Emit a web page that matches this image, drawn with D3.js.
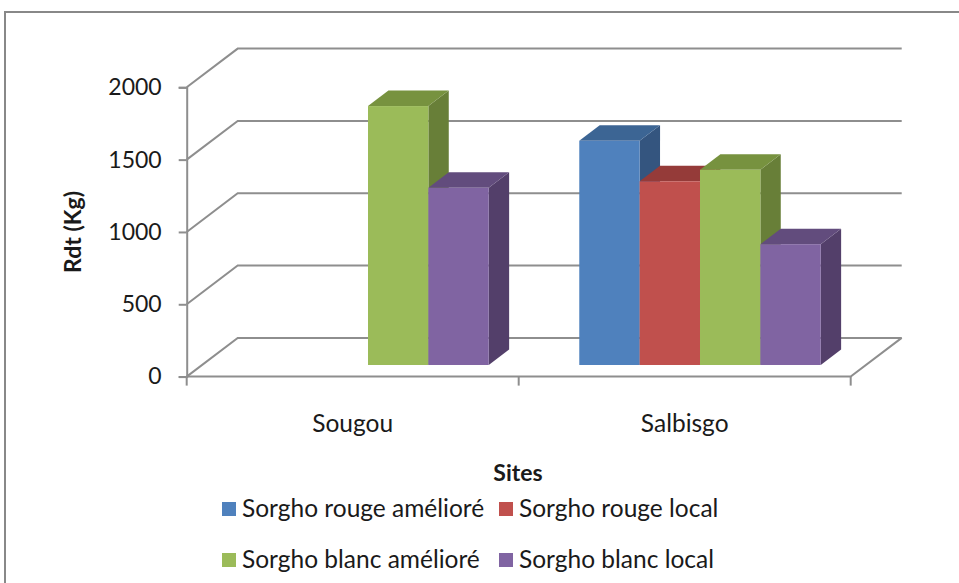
<!DOCTYPE html>
<html>
<head>
<meta charset="utf-8">
<script src="https://cdn.jsdelivr.net/npm/d3@7"></script>
<style>
  html, body { margin: 0; padding: 0; background: #fff; }
  svg { display: block; }
  text { font-family: Lato, "Open Sans", sans-serif; fill: #1a1a1a; }
</style>
</head>
<body>
<svg id="chart" width="959" height="583"></svg>
<script>
// Rendement (kg) par site et par variété de sorgho
const categories = ["Sougou", "Salbisgo"];
const seriesNames = [
  "Sorgho rouge amélioré",
  "Sorgho rouge local",
  "Sorgho blanc amélioré",
  "Sorgho blanc local"
];
const sorghoRougeAmeliore = [null, 1550];
const sorghoRougeLocal    = [null, 1270];
const sorghoBlancAmeliore = [1790, 1350];
const sorghoBlancLocal    = [1225, 835];
const yTicks = [0, 500, 1000, 1500, 2000];

const seriesValues = [sorghoRougeAmeliore, sorghoRougeLocal, sorghoBlancAmeliore, sorghoBlancLocal];
// front, top, side shades for each series
const palette = [
  { front: "#4f81bd", top: "#3c6594", side: "#34557f" },
  { front: "#c0504d", top: "#953b39", side: "#7f3331" },
  { front: "#9bbb59", top: "#77923f", side: "#687f38" },
  { front: "#8064a2", top: "#624c7d", side: "#533f6a" }
];

const svg = d3.select("#chart");

// outer chart border
svg.append("rect")
  .attr("x", 5).attr("y", 12)
  .attr("width", 1000).attr("height", 700)
  .attr("fill", "none").attr("stroke", "#888").attr("stroke-width", 2);

// 3D projection: depth offsets of the back wall
const DX = 51, DY = 38.7;
const x0 = d3.scaleBand().domain(categories).range([186.7, 850.7]).padding(0);
const x1 = d3.scaleBand().domain(seriesNames).range([0, x0.bandwidth()])
  .paddingInner(0).paddingOuter(0.75);
const y = d3.scaleLinear().domain([0, 2000]).range([376.6, 87.3]);

const P = (px, v, d) => [px + d * DX, y(v) - d * DY];
const gridColor = "#8e8e8e";

const walls = svg.append("g").attr("fill", "none").attr("stroke", gridColor).attr("stroke-width", 2);
const [xl, xr] = x0.range();

// gridlines on side wall and back wall
yTicks.forEach(t => {
  const a = P(xl, t, 0), b = P(xl, t, 1), c = P(xr, t, 1);
  walls.append("path").attr("d", d3.line()([a, b, c]));
});
// floor front edge and right edge
walls.append("path").attr("d", d3.line()([P(xl, 0, 0), P(xr, 0, 0), P(xr, 0, 1)]));

// vertical value axis
const axisG = svg.append("g").attr("transform", `translate(${xl},0)`);
axisG.call(d3.axisLeft(y).tickValues(yTicks).tickSize(8).tickPadding(17).tickFormat(d3.format("d")));
axisG.select(".domain").attr("stroke", gridColor).attr("stroke-width", 2);
axisG.selectAll(".tick line").attr("stroke", gridColor).attr("stroke-width", 2);
axisG.selectAll(".tick text").attr("font-size", 23).attr("font-family", "Lato").attr("fill", "#1a1a1a");

// category axis
const catG = svg.append("g").attr("transform", `translate(0,${y(0)})`);
catG.call(d3.axisBottom(x0).tickSize(0).tickPadding(38));
catG.select(".domain").remove();
catG.selectAll(".tick text").attr("font-size", 24.5).attr("font-family", "Lato").attr("fill", "#1a1a1a");
// category tick marks at band boundaries
const bounds = [xl, xl + x0.step(), xr];
svg.append("g").selectAll("line").data(bounds).join("line")
  .attr("x1", d => d).attr("x2", d => d)
  .attr("y1", y(0)).attr("y2", y(0) + 9)
  .attr("stroke", gridColor).attr("stroke-width", 2);

// 3D bars
const dF = 0.3, dB = 0.7;
const bars = svg.append("g");
categories.forEach((cat, ci) => {
  seriesNames.forEach((s, si) => {
    const v = seriesValues[si][ci];
    if (v == null) return;
    const xa = x0(cat) + x1(s), xb = xa + x1.bandwidth();
    const col = palette[si];
    const g = bars.append("g");
    // right side face
    g.append("path")
      .attr("d", d3.line()([P(xb, 0, dF), P(xb, 0, dB), P(xb, v, dB), P(xb, v, dF)]) + "Z")
      .attr("fill", col.side);
    // top face
    g.append("path")
      .attr("d", d3.line()([P(xa, v, dF), P(xa, v, dB), P(xb, v, dB), P(xb, v, dF)]) + "Z")
      .attr("fill", col.top);
    // front face
    const [fx, fy] = P(xa, v, dF);
    const [, fy0] = P(xa, 0, dF);
    g.append("rect")
      .attr("x", fx).attr("y", fy)
      .attr("width", x1.bandwidth()).attr("height", fy0 - fy)
      .attr("fill", col.front);
  });
});

// axis titles
svg.append("text")
  .attr("transform", "translate(72,232) rotate(-90)")
  .attr("text-anchor", "middle").attr("dominant-baseline", "central")
  .attr("font-size", 23).attr("font-weight", "bold")
  .text("Rdt (Kg)");
svg.append("text")
  .attr("x", 518).attr("y", 481)
  .attr("text-anchor", "middle")
  .attr("font-size", 23).attr("font-weight", "bold")
  .text("Sites");

// legend, two rows of two entries
const legendPos = [[222, 509], [499, 509], [222, 560], [499, 560]];
const legend = svg.append("g");
seriesNames.forEach((s, i) => {
  const [lx, ly] = legendPos[i];
  legend.append("rect")
    .attr("x", lx).attr("y", ly - 7).attr("width", 14).attr("height", 14)
    .attr("fill", palette[i].front);
  legend.append("text")
    .attr("x", lx + 20).attr("y", ly + 8)
    .attr("font-size", 24.5)
    .text(s);
});
</script>
</body>
</html>
